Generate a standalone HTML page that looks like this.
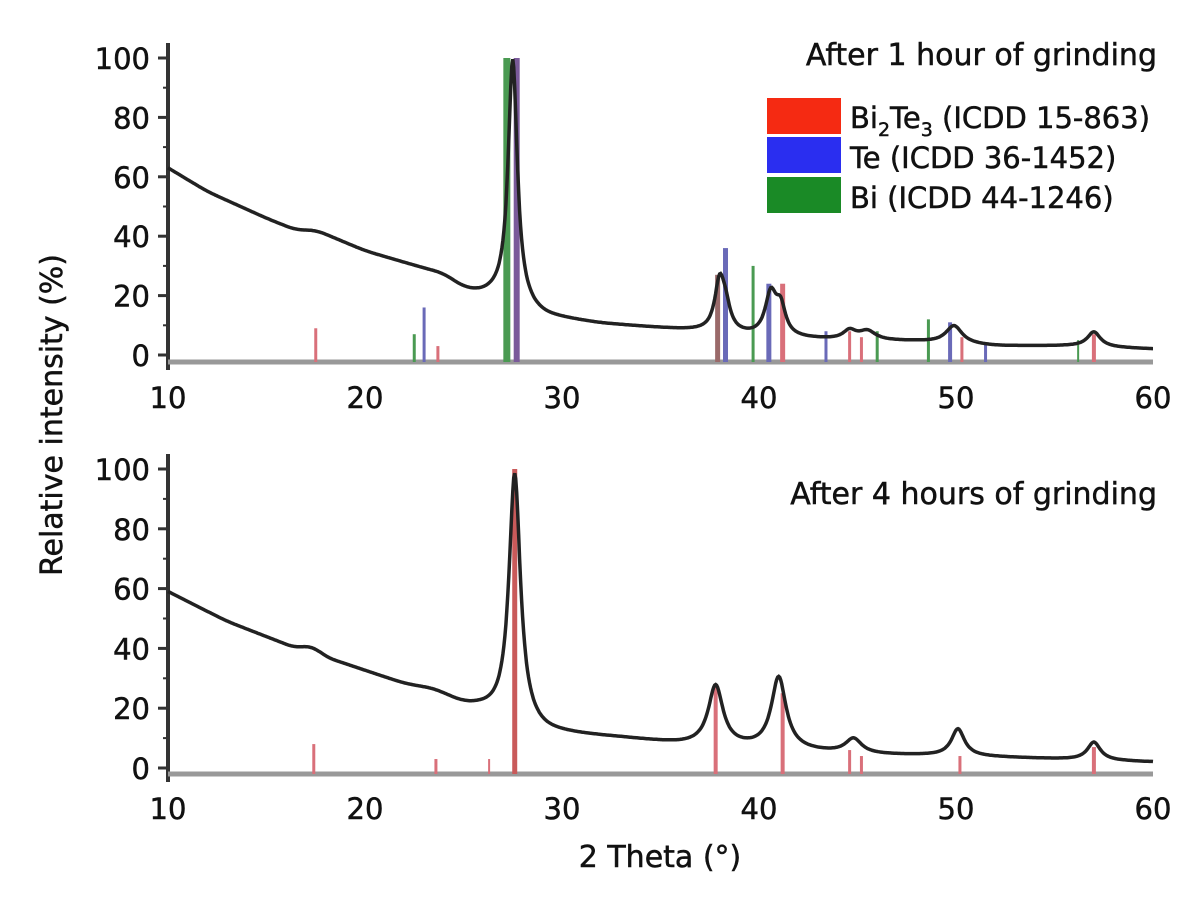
<!DOCTYPE html>
<html><head><meta charset="utf-8"><style>
html,body{margin:0;padding:0;background:#fff;width:1200px;height:906px;overflow:hidden}
text{font-family:"DejaVu Sans","Liberation Sans",sans-serif;fill:#111;stroke:#111;stroke-width:0.5}
</style></head><body>
<svg id="s" width="1200" height="906" viewBox="0 0 1200 906" xmlns="http://www.w3.org/2000/svg">
<rect width="1200" height="906" fill="#fff"/>
<g id="g"></g>
<text x="1157" y="65" font-size="30" text-anchor="end">After 1 hour of grinding</text>
<text x="1157" y="504" font-size="30" text-anchor="end">After 4 hours of grinding</text>
<rect x="767" y="98" width="74" height="36" fill="#f52a12"/>
<rect x="767" y="137" width="74" height="36" fill="#2a2ef0"/>
<rect x="767" y="177" width="74" height="36" fill="#1a8a26"/>
<text x="850" y="128" font-size="29">Bi<tspan font-size="19" dy="8">2</tspan><tspan dy="-8">Te</tspan><tspan font-size="19" dy="8">3</tspan><tspan dy="-8"> (ICDD 15-863)</tspan></text>
<text x="850" y="168" font-size="29">Te (ICDD 36-1452)</text>
<text x="850" y="208" font-size="29">Bi (ICDD 44-1246)</text>
<text transform="translate(62,415) rotate(-90)" font-size="30" text-anchor="middle">Relative intensity (%)</text>
<text x="660" y="867" font-size="30" text-anchor="middle">2 Theta (°)</text>
</svg>
<script>
const g=document.getElementById('g');let h='';
const X=t=>168+(t-10)*19.7;
function interp(pts,t){for(let i=0;i<pts.length-1;i++){if(t<=pts[i+1][0]){const a=pts[i],b=pts[i+1];return a[1]+(b[1]-a[1])*(t-a[0])/(b[0]-a[0]);}}return pts[pts.length-1][1];}
function curve(bg,pk,Y){let d='';for(let t=10;t<=60.001;t+=0.05){let v=0,n=0;for(let k=-6;k<=6;k++){v+=interp(bg,t+k*0.08);n++;}v/=n;for(const p of pk)v+=p[1]/(1+((t-p[0])/p[2])**2);d+=(d?'L':'M')+X(t).toFixed(1)+','+Y(v).toFixed(1);}return '<path d="'+d+'" fill="none" stroke="#222" stroke-width="3.5"/>';}
function panel(y0,y100,axisY,lblY){
 const Y=v=>y0-(y0-y100)*v/100;
 h+='<line x1="168" y1="'+(y100-15)+'" x2="168" y2="'+(axisY+8)+'" stroke="#333" stroke-width="4"/>';
 h+='<line x1="168" y1="'+axisY+'" x2="1153" y2="'+axisY+'" stroke="#999" stroke-width="5"/>';
 for(let v=0;v<=100;v+=20){h+='<line x1="158" y1="'+Y(v)+'" x2="168" y2="'+Y(v)+'" stroke="#333" stroke-width="3"/><text x="150" y="'+(Y(v)+11)+'" font-size="29" text-anchor="end">'+v+'</text>';}
 for(let v=10;v<=100;v+=20)h+='<line x1="163" y1="'+Y(v)+'" x2="168" y2="'+Y(v)+'" stroke="#333" stroke-width="2"/>';
 for(let t=10;t<=60;t+=10)h+='<text x="'+X(t)+'" y="'+lblY+'" font-size="29" text-anchor="middle">'+t+'</text>';
 return Y;}
function sticks(list,Y,axisY){for(const s of list)h+='<rect x="'+(X(s[0])-s[3]/2)+'" y="'+Y(s[1])+'" width="'+s[3]+'" height="'+(axisY-Y(s[1]))+'" fill="'+s[2]+'"/>';}
let Y1=panel(355,58,362,408);
const R='#d9707a',B='#6a6ab8',G='#4a9a52',P='#7a5a9a';
sticks([[17.5,9,R,3],[22.5,7,G,3],[23,16,B,3],[23.7,3,R,3],[27.2,100,G,7],[27.7,100,P,6],[37.9,27,'#9a6a6a',5],[38.3,36,B,5],[39.7,30,G,3],[40.5,24,B,5],[41.2,24,R,5],[43.4,8,B,3],[44.6,8,R,3],[45.2,6,R,3],[46,8,G,3],[48.6,12,G,3],[49.7,11,B,4],[50.3,6,R,3],[51.5,4,B,3],[56.2,5,G,2],[57,7,R,4]],Y1,362);
h+=curve([[10,63],[12,55],[15,46],[16.5,42],[17.5,42],[20,35],[23,29],[24,27],[25,22],[26,20],[26.7,20],[29,13],[32,10.5],[35,9],[37,8],[40,6],[42,5.5],[44,5],[48,4.5],[52,3],[56,3],[60,2]],
 [[27.5,82,0.28],[38,16,0.3],[38.3,7,0.3],[40.6,14,0.35],[41.1,9,0.3],[44.6,3,0.4],[45.5,3,0.5],[49.9,6,0.5],[57,5,0.4]],Y1);
let Y2=panel(768,469,774,819);
sticks([[17.4,8,R,3],[23.6,3,R,3],[26.3,3,R,2],[27.6,100,'#c95a5a',5],[37.8,28,R,4],[41.2,25,R,4],[44.6,6,R,3],[45.2,4,R,3],[50.2,4,R,3],[57,7,R,4]],Y2,774);
h+=curve([[10,59],[13,49],[16.5,40],[17.3,41],[18,37],[22,28],[23.5,26],[25,21],[26,19.5],[29,12],[33,10],[36,8],[40,6.5],[45,4.5],[50,4],[55,3],[60,2]],
 [[27.6,83,0.35],[37.8,20,0.45],[41,24,0.45],[44.8,5,0.5],[50.1,9,0.4],[57,6,0.4]],Y2);
g.innerHTML=h;
</script>
</body></html>
